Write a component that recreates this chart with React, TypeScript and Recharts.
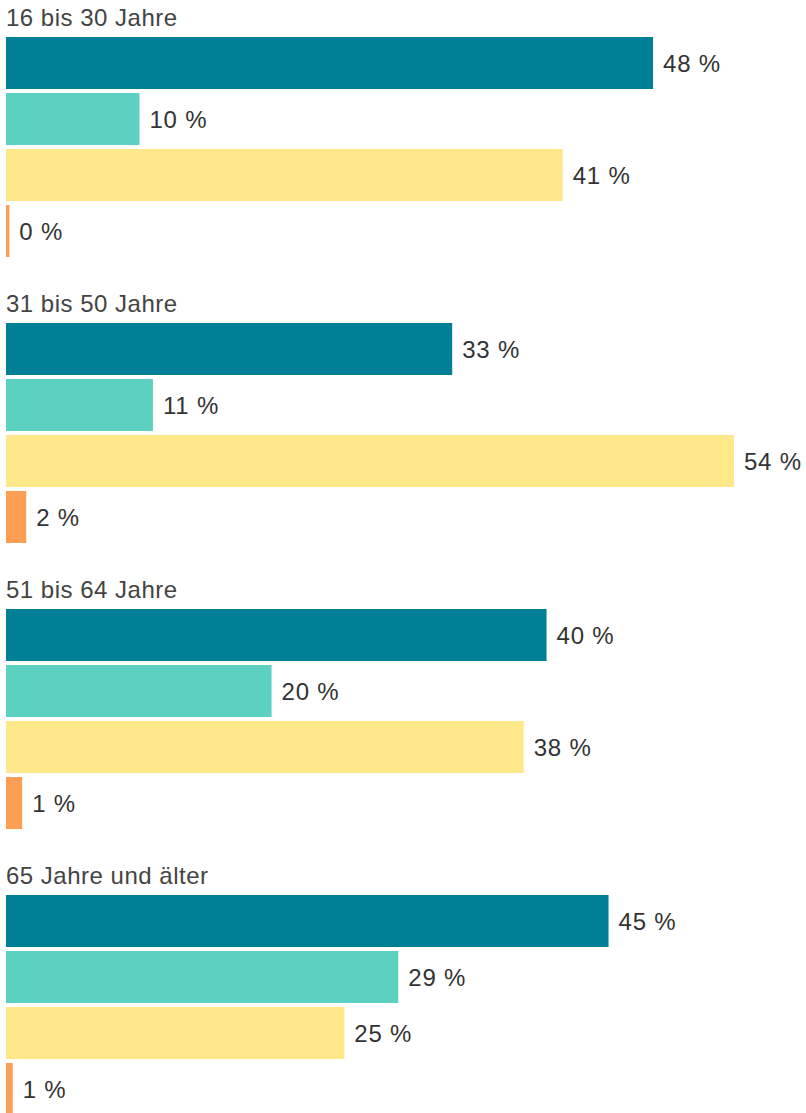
import React from 'react';
import { BarChart, Bar, XAxis, YAxis, Cell, LabelList } from 'recharts';

const groupTitles = ['16 bis 30 Jahre', '31 bis 50 Jahre', '51 bis 64 Jahre', '65 Jahre und älter'];
const answerKeys = ['a1', 'a2', 'a3', 'a4'];
const answerColors = ['#008096', '#5cd1c1', '#fee88a', '#fe9d54'];

// bar lengths
const values16to30 = [48, 9.9, 41.3, 0.25];
const values31to50 = [33.1, 10.9, 54, 1.5];
const values51to64 = [40.1, 19.7, 38.4, 1.2];
const values65plus = [44.7, 29.1, 25.1, 0.5];

// printed labels
const labels16to30 = [48, 10, 41, 0];
const labels31to50 = [33, 11, 54, 2];
const labels51to64 = [40, 20, 38, 1];
const labels65plus = [45, 29, 25, 1];

const groupValues = [values16to30, values31to50, values51to64, values65plus];
const groupLabels = [labels16to30, labels31to50, labels51to64, labels65plus];

const FONT = '"Liberation Sans", Arial, Helvetica, sans-serif';
const CHART_W = 800;
const DOMAIN_MAX = 800 / 13.48;

export default function App() {
  return (
    <div style={{ position: 'absolute', left: 0, top: 0, width: 806, height: 1113, fontFamily: FONT }}>
      {groupTitles.map((title, g) => {
        const data = answerKeys.map((k, i) => ({
          key: k,
          value: groupValues[g][i],
          label: groupLabels[g][i],
        }));
        return (
          <React.Fragment key={title}>
            <div
              style={{
                position: 'absolute',
                left: 6,
                top: 6.4 + 286 * g,
                fontSize: 24,
                lineHeight: '24px',
                letterSpacing: 0.5,
                color: '#444',
                whiteSpace: 'nowrap',
              }}
            >
              {title}
            </div>
            <div style={{ position: 'absolute', left: 6, top: 34.5 + 286 * g }}>
              <BarChart
                width={CHART_W}
                height={224}
                data={data}
                layout="vertical"
                margin={{ top: 0, right: 0, bottom: 0, left: 0 }}
                barCategoryGap={4}
              >
                <XAxis type="number" domain={[0, DOMAIN_MAX]} hide />
                <YAxis type="category" dataKey="key" hide />
                <Bar dataKey="value" barSize={52} isAnimationActive={false}>
                  {data.map((d, i) => (
                    <Cell key={d.key} fill={answerColors[i]} />
                  ))}
                  <LabelList
                    dataKey="label"
                    position="right"
                    offset={10}
                    formatter={(v: any) => `${v} %`}
                    style={{ fill: '#333', fontSize: 24, letterSpacing: 0.8, fontFamily: FONT }}
                  />
                </Bar>
              </BarChart>
            </div>
          </React.Fragment>
        );
      })}
    </div>
  );
}
